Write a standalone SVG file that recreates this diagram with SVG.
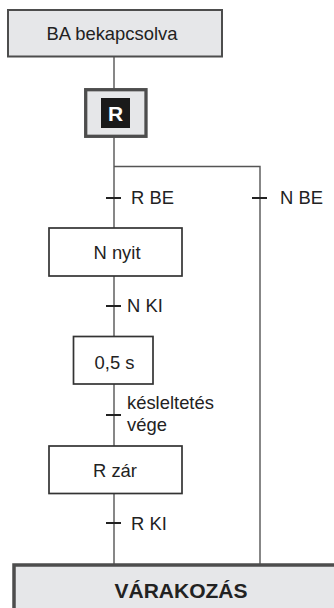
<svg xmlns="http://www.w3.org/2000/svg" width="334" height="608" viewBox="0 0 334 608">
<style>
text{font-family:"Liberation Sans",Arial,sans-serif;fill:#222;font-size:18.4px}
.c{text-anchor:middle}
.step{fill:#fff;stroke:#333;stroke-width:1.7}
.gray{fill:#e6e7e9;stroke:#4d4d4d}
.ln{stroke:#555;stroke-width:1.4;fill:none}
.tk{stroke:#222;stroke-width:2;fill:none}
</style>
<rect width="334" height="608" fill="#fff"/>
<g id="connectors">
<path class="ln" d="M114,57V564M114,166.5H260V564"/>
<path class="tk" d="M106,198H121M252,198H267M106,306H121M106,415H121M106,523H121"/>
<text x="131" y="203.5">R BE</text>
<text x="280" y="203.5">N BE</text>
<text x="127" y="311.5">N KI</text>
<text x="127" y="409">késleltetés</text>
<text x="127" y="431">vége</text>
<text x="131" y="529.5">R KI</text>
</g>
<g id="ba">
<rect class="gray" x="8" y="10" width="214" height="46.5" stroke-width="2"/>
<text class="c" x="112" y="39.5">BA bekapcsolva</text>
</g>
<g id="r">
<rect class="gray" x="85.7" y="89.7" width="60.3" height="46.6" stroke-width="3.3"/>
<rect x="101" y="98" width="29" height="30" fill="#1a1a1a"/>
<text class="c" x="115.5" y="120.5" style="fill:#fff;font-weight:bold;font-size:21px">R</text>
</g>
<g id="nnyit">
<rect class="step" x="49" y="228" width="133" height="48"/>
<text class="c" x="117" y="258.5">N nyit</text>
</g>
<g id="delay">
<rect class="step" x="73.5" y="336.5" width="79.5" height="47.5"/>
<text class="c" x="114.5" y="368.5">0,5 s</text>
</g>
<g id="rzar">
<rect class="step" x="49" y="446" width="133" height="47.5"/>
<text class="c" x="115" y="477">R zár</text>
</g>
<g id="varakozas">
<rect class="gray" x="14" y="565" width="340" height="60" stroke-width="3.5"/>
<text class="c" x="181" y="598" style="font-weight:bold;font-size:21px">VÁRAKOZÁS</text>
</g>
</svg>
